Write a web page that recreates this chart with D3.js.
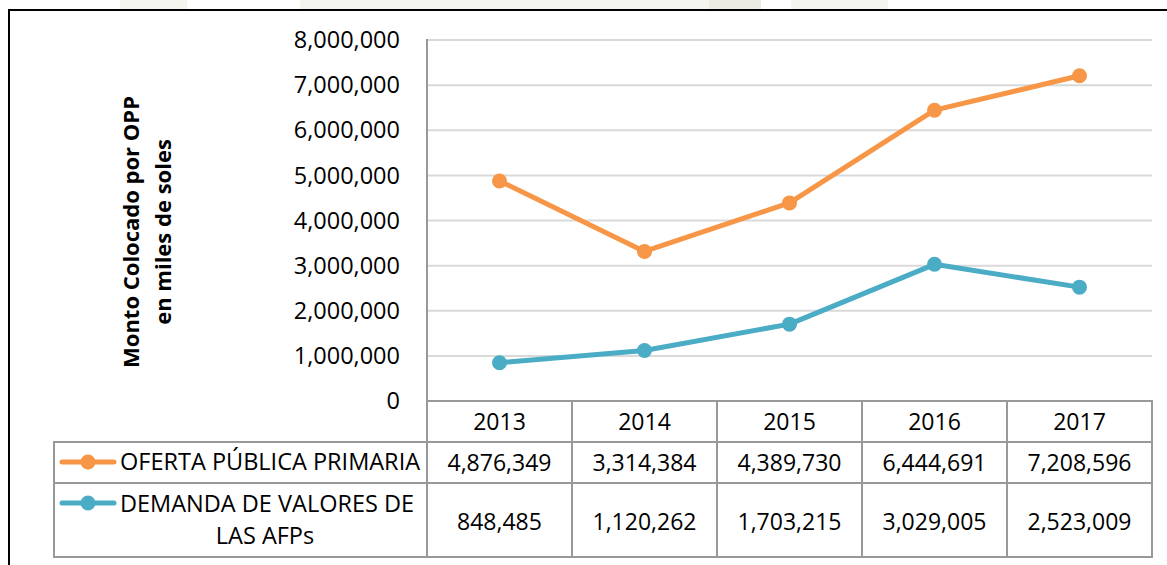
<!DOCTYPE html>
<html>
<head>
<meta charset="utf-8">
<script src="https://cdn.jsdelivr.net/npm/d3@7"></script>
<style>
  body { margin: 0; background: #fff; }
  text { font-family: "Open Sans", sans-serif; fill: #000; }
</style>
</head>
<body>
<script>
// chart data
var years = ["2013", "2014", "2015", "2016", "2017"];
var oferta = [4876349, 3314384, 4389730, 6444691, 7208596];
var demanda = [848485, 1120262, 1703215, 3029005, 2523009];
var yTicks = [0, 1000000, 2000000, 3000000, 4000000, 5000000, 6000000, 7000000, 8000000];
var seriesNames = [["OFERTA PÚBLICA PRIMARIA"], ["DEMANDA DE VALORES DE", "LAS AFPs"]];
var axisTitle = ["Monto Colocado por OPP", "en miles de soles"];

window.onload = function()
{
  var width = 1167, height = 565;
  var plotLeft = 427, plotRight = 1152, plotTop = 40, plotBottom = 401;
  var rowTops = [401, 442, 483, 557];
  var legendLeft = 54;
  var colors = ["#F79646", "#4BACC6"];
  var fmt = d3.format(",");

  var svg = d3.select("body").append("svg")
      .attr("width", width)
      .attr("height", height);

  // faint watermark peeking above the frame
  var marks = [[120, 67], [300, 178], [478, 231], [709, 52], [791, 97]];
  svg.selectAll("rect.wm")
      .data(marks)
      .enter()
      .append("rect")
      .attr("class", "wm")
      .attr("x", function(d) { return d[0]; })
      .attr("y", 0)
      .attr("width", function(d) { return d[1]; })
      .attr("height", 9)
      .attr("fill", function(d, i) { return i == 3 ? "#ebebe3" : "#f5f5f0"; });

  // frame
  svg.append("line").attr("x1", 8).attr("x2", width).attr("y1", 10).attr("y2", 10)
      .attr("stroke", "#000").attr("stroke-width", 2);
  svg.append("line").attr("x1", 9).attr("x2", 9).attr("y1", 9).attr("y2", height)
      .attr("stroke", "#000").attr("stroke-width", 2);

  // scales
  var x = d3.scaleBand()
      .domain(years)
      .range([plotLeft, plotRight]);

  var y = d3.scaleLinear()
      .domain([0, 8000000])
      .range([plotBottom, plotTop]);

  // gridlines
  svg.selectAll("line.grid")
      .data(yTicks)
      .enter()
      .append("line")
      .attr("class", "grid")
      .attr("x1", plotLeft)
      .attr("x2", plotRight)
      .attr("y1", function(d) { return y(d); })
      .attr("y2", function(d) { return y(d); })
      .attr("stroke", "#d9d9d9")
      .attr("stroke-width", 2);

  // y tick labels
  svg.selectAll("text.ytick")
      .data(yTicks)
      .enter()
      .append("text")
      .attr("class", "ytick")
      .attr("x", 400)
      .attr("y", function(d) { return y(d); })
      .attr("dy", "0.35em")
      .attr("text-anchor", "end")
      .style("font-size", "23.5px")
      .text(function(d) { return fmt(d); });

  // axis title
  axisTitle.forEach(function(t, i) {
    svg.append("text")
        .attr("transform", "translate(" + (139 + i * 32) + ",232) rotate(-90)")
        .attr("text-anchor", "middle")
        .style("font-size", "22px")
        .style("font-weight", "bold")
        .text(t);
  });

  // lines
  var line = d3.line()
      .x(function(d, i) { return x(years[i]) + x.bandwidth() / 2; })
      .y(function(d) { return y(d); });

  [oferta, demanda].forEach(function(s, k) {
    svg.append("path")
        .datum(s)
        .attr("d", line)
        .attr("fill", "none")
        .attr("stroke", colors[k])
        .attr("stroke-width", 5)
        .attr("stroke-linejoin", "round");

    svg.selectAll("circle.s" + k)
        .data(s)
        .enter()
        .append("circle")
        .attr("class", "s" + k)
        .attr("cx", function(d, i) { return x(years[i]) + x.bandwidth() / 2; })
        .attr("cy", function(d) { return y(d); })
        .attr("r", 7.5)
        .attr("fill", colors[k]);
  });

  // data table
  var grid = svg.append("g")
      .attr("stroke", "#999")
      .attr("stroke-width", 2);

  // vertical axis line / first column border
  grid.append("line").attr("x1", plotLeft).attr("x2", plotLeft)
      .attr("y1", plotTop - 1).attr("y2", rowTops[3]);
  // column borders
  years.forEach(function(yr) {
    var xr = x(yr) + x.bandwidth();
    grid.append("line").attr("x1", xr).attr("x2", xr)
        .attr("y1", rowTops[0]).attr("y2", rowTops[3]);
  });
  // row borders
  rowTops.forEach(function(ry, i) {
    grid.append("line")
        .attr("x1", i == 0 ? plotLeft : legendLeft)
        .attr("x2", plotRight + 1)
        .attr("y1", ry).attr("y2", ry);
  });
  grid.append("line").attr("x1", legendLeft).attr("x2", legendLeft)
      .attr("y1", rowTops[1] - 1).attr("y2", rowTops[3] + 1);

  // years
  svg.selectAll("text.year")
      .data(years)
      .enter()
      .append("text")
      .attr("class", "year")
      .attr("x", function(d) { return x(d) + x.bandwidth() / 2; })
      .attr("y", (rowTops[0] + rowTops[1]) / 2)
      .attr("dy", "0.35em")
      .attr("text-anchor", "middle")
      .style("font-size", "23px")
      .text(function(d) { return d; });

  // values
  [oferta, demanda].forEach(function(s, k) {
    svg.selectAll("text.v" + k)
        .data(s)
        .enter()
        .append("text")
        .attr("class", "v" + k)
        .attr("x", function(d, i) { return x(years[i]) + x.bandwidth() / 2; })
        .attr("y", (rowTops[k + 1] + rowTops[k + 2]) / 2 + (k == 1 ? 2 : 0))
        .attr("dy", "0.35em")
        .attr("text-anchor", "middle")
        .style("font-size", "23px")
        .text(function(d) { return fmt(d); });
  });

  // legend keys and labels
  var keyY = [462, 503];
  keyY.forEach(function(ky, k) {
    svg.append("line")
        .attr("x1", 62).attr("x2", 114)
        .attr("y1", ky).attr("y2", ky)
        .attr("stroke", colors[k])
        .attr("stroke-width", 5)
        .attr("stroke-linecap", "round");
    svg.append("circle")
        .attr("cx", 88).attr("cy", ky)
        .attr("r", 7.5)
        .attr("fill", colors[k]);
  });

  svg.append("text")
      .attr("x", 120).attr("y", 462).attr("dy", "0.35em")
      .style("font-size", "23.5px")
      .text(seriesNames[0][0]);
  svg.append("text")
      .attr("x", 120).attr("y", 504).attr("dy", "0.35em")
      .style("font-size", "23.5px")
      .text(seriesNames[1][0]);
  svg.append("text")
      .attr("x", 265).attr("y", 536).attr("dy", "0.35em")
      .attr("text-anchor", "middle")
      .style("font-size", "23.5px")
      .text(seriesNames[1][1]);
};
</script>
</body>
</html>
